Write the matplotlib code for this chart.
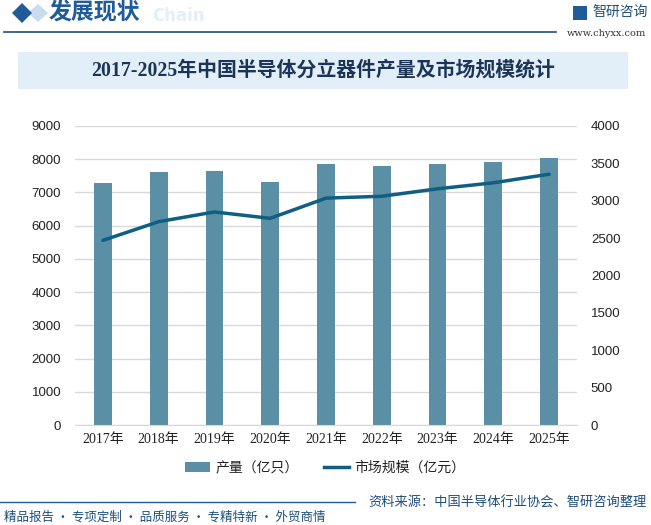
import matplotlib
matplotlib.use("Agg")
import matplotlib.pyplot as plt
from matplotlib.patches import Rectangle, Polygon
from matplotlib.lines import Line2D

plt.rcParams['font.family'] = ['Noto Sans CJK SC', 'DejaVu Sans']

years = ['2017年', '2018年', '2019年', '2020年', '2021年', '2022年', '2023年', '2024年', '2025年']
output = [7290, 7620, 7650, 7320, 7870, 7800, 7870, 7920, 8040]
market = [2470, 2720, 2850, 2765, 3035, 3060, 3160, 3240, 3355]
left_ticks = [0, 1000, 2000, 3000, 4000, 5000, 6000, 7000, 8000, 9000]
right_ticks = [0, 500, 1000, 1500, 2000, 2500, 3000, 3500, 4000]

W, H = 651, 525
fig = plt.figure(figsize=(W / 100, H / 100), dpi=100)
fig.patch.set_facecolor('white')

def fx(px):
    return px / W

def fy(py):
    return 1 - py / H

bar_color = '#5b8fa5'
line_color = '#0e5f82'
serif_cjk = ['Liberation Serif', 'Noto Sans CJK SC']

# Header
fig.patches.append(Polygon([[fx(28), fy(13)], [fx(38), fy(4)], [fx(48), fy(13)], [fx(38), fy(22)]],
                           closed=True, transform=fig.transFigure, facecolor='#c9dcee', edgecolor='none', zorder=0))
fig.patches.append(Polygon([[fx(12), fy(13)], [fx(22), fy(3)], [fx(32), fy(13)], [fx(22), fy(23)]],
                           closed=True, transform=fig.transFigure, facecolor='#1f5c99', edgecolor='none'))
fig.text(fx(152), fy(16), 'Chain', fontsize=12, fontweight='bold', color='#e3eef8', va='center', ha='left',
         family=['DejaVu Sans'])
fig.text(fx(49), fy(13), '发展现状', fontsize=16.5, fontweight='bold', color='#1f5c99', va='center', ha='left')
fig.add_artist(Line2D([fx(4), fx(556)], [fy(32), fy(32)], color='#1f4e79', lw=1.2))
# logo
fig.patches.append(Rectangle((fx(573), fy(20)), fx(14), 14 / H, transform=fig.transFigure,
                             facecolor='#1f5c99', edgecolor='none'))
fig.text(fx(592), fy(12), '智研咨询', fontsize=10, color='#1f4e79', va='center', ha='left')
fig.text(fx(567), fy(33), 'www.chyxx.com', fontsize=7, color='#333333', va='center', ha='left',
         family=['DejaVu Serif'])

# Title box
fig.patches.append(Rectangle((fx(18), fy(89)), fx(610), 37 / H, transform=fig.transFigure,
                             facecolor='#e3eff8', edgecolor='none', zorder=0))
fig.text(fx(323), fy(71), '2017-2025年中国半导体分立器件产量及市场规模统计', fontsize=14.3, fontweight='bold',
         color='#1c3557', va='center', ha='center', family=serif_cjk)

# Main axes
ax = fig.add_axes([fx(75), fy(425), fx(577) - fx(75), fy(126) - fy(425)])
x = list(range(len(years)))
ax.bar(x, output, width=0.32, color=bar_color, zorder=2, label='产量（亿只）')
ax.set_ylim(0, 9000)
ax.set_yticks(left_ticks)
ax.set_xlim(-0.5, len(years) - 0.5)
ax.set_xticks(x)
ax.set_xticklabels(years, fontsize=10, color='#222222', family=serif_cjk)
ax.yaxis.grid(True, color='#d9d9d9', lw=1, zorder=0)
ax.set_axisbelow(True)
for s in ['top', 'left', 'right']:
    ax.spines[s].set_visible(False)
ax.spines['bottom'].set_color('#d9d9d9')
ax.tick_params(axis='both', length=0)
ax.tick_params(axis='y', labelsize=9.5, labelcolor='#222222', pad=10)
ax.tick_params(axis='x', pad=6)
for lab in ax.get_yticklabels():
    lab.set_family(['Liberation Sans', 'DejaVu Sans'])

ax2 = ax.twinx()
ax2.plot(x, market, color=line_color, lw=2.5, zorder=3, solid_capstyle='round', label='市场规模（亿元）')
ax2.set_ylim(0, 4000)
ax2.set_yticks(right_ticks)
for s in ['top', 'left', 'right', 'bottom']:
    ax2.spines[s].set_visible(False)
ax2.tick_params(axis='y', length=0, labelsize=9.5, labelcolor='#222222', pad=10)
for lab in ax2.get_yticklabels():
    lab.set_family(['Liberation Sans', 'DejaVu Sans'])

# Legend
h1 = Rectangle((0, 0), 1, 1, facecolor=bar_color, edgecolor='none')
h2 = Line2D([0], [0], color=line_color, lw=2.5)
fig.legend([h1, h2], ['产量（亿只）', '市场规模（亿元）'], loc='center', bbox_to_anchor=(fx(325), fy(468)),
           ncol=2, frameon=False, fontsize=10, handlelength=1.8, handleheight=0.7, columnspacing=1.8,
           handletextpad=0.4, labelcolor='#222222')

# Footer
fig.add_artist(Line2D([fx(0), fx(355)], [fy(502), fy(502)], color='#1f5c99', lw=1.0))
fig.text(fx(647), fy(503), '资料来源：中国半导体行业协会、智研咨询整理', fontsize=9.5, color='#1f4e79',
         va='center', ha='right')
fig.text(fx(4), fy(517), '精品报告 · 专项定制 · 品质服务 · 专精特新 · 外贸商情', fontsize=9, color='#1f4e79',
         va='center', ha='left')

fig.savefig('out.png', dpi=100, facecolor='white')
